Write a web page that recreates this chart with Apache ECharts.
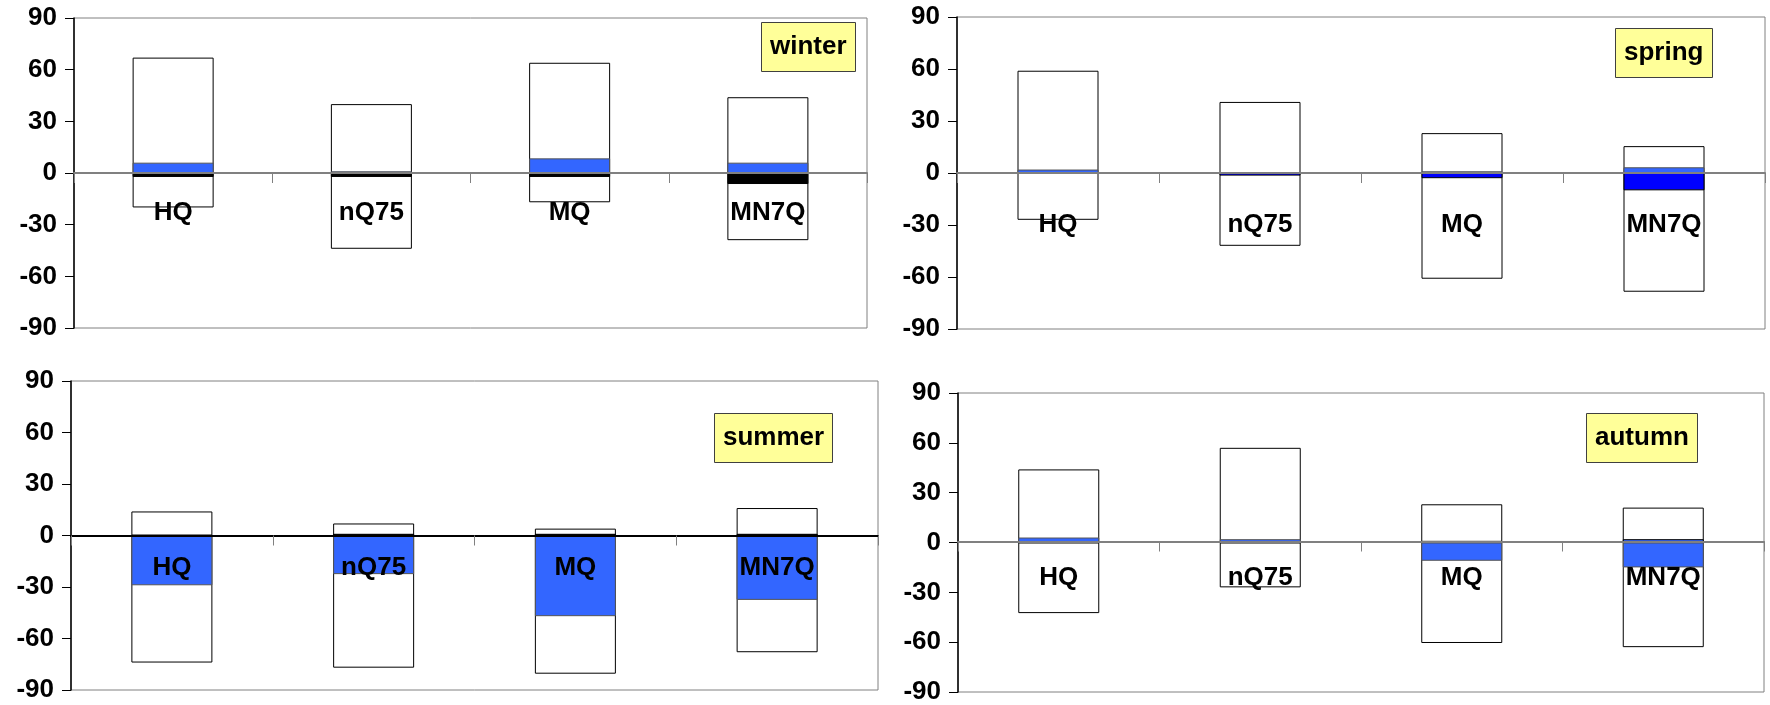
<!DOCTYPE html>
<html lang="en">
<head>
  <meta charset="UTF-8">
  <title>seasonal changes</title>
  <script src="https://cdn.jsdelivr.net/npm/echarts@6/dist/echarts.min.js"></script>
  <style>
    html, body { margin: 0; padding: 0; background: #fff; }
  </style>
</head>
<body>
    <div id="main" style="width: 1770px;height:705px;"></div>
    <script type="text/javascript">
        // categories and tick labels
        var categories = ['HQ', 'nQ75', 'MQ', 'MN7Q'];
        var seasons = ['winter', 'spring', 'summer', 'autumn'];
        var yTicks = [-90, -60, -30, 0, 30, 60, 90];

        // white box: range (max / min), blue bar and dark bar: changes
        var winterMax = [67, 40, 64, 44];
        var winterMin = [-20, -44, -17, -39];
        var winterBlue = [6, 1, 8.5, 6];
        var winterDark = [-2.3, -2.3, -2.3, -6.4];

        var springMax = [59, 41, 23, 15.5];
        var springMin = [-27, -42, -61, -68.5];
        var springBlue = [2, null, 1, 3.3];
        var springDark = [null, -1.5, -3, -10];

        var summerMax = [14, 7, 4, 16];
        var summerMin = [-74, -77, -80.5, -68];
        var summerBlue = [-29, -22.5, -47, -37.5];
        var summerDark = [null, 1, 1, 1];

        var autumnMax = [44, 57, 23, 21];
        var autumnMin = [-42.5, -27, -60.5, -63];
        var autumnBlue = [3, 2, -11, -15];
        var autumnDark = [null, null, 1, 2];

        var maxSets = [winterMax, springMax, summerMax, autumnMax];
        var minSets = [winterMin, springMin, summerMin, autumnMin];
        var blueSets = [winterBlue, springBlue, summerBlue, autumnBlue];
        var darkSets = [winterDark, springDark, summerDark, autumnDark];

        // layout of the four panels
        var grids = [
            {left: 74, top: 18, width: 793, height: 310},
            {left: 957, top: 17, width: 808, height: 312},
            {left: 71, top: 381, width: 807, height: 309},
            {left: 958, top: 393, width: 806, height: 301}
        ];
        var titlePos = [[761, 22], [1615, 28], [714, 413], [1586, 413]];
        var labelMargin = [27, 39, 19, 23];
        var darkColor = ['#000000', '#0000FF', '#000000', '#3366FF'];
        var zeroColor = ['#808080', '#808080', '#000000', '#808080'];

        var font = 'Liberation Sans, Arial, sans-serif';

        var myChart = echarts.init(document.getElementById('main'));

        var option = {
            backgroundColor: '#fff',
            animation: false,
            title: [],
            grid: [],
            xAxis: [],
            yAxis: [],
            series: []
        };

        for (var i = 0; i < 4; i++) {
            var g = grids[i];
            option.grid.push({
                left: g.left, top: g.top, width: g.width, height: g.height,
                show: true, borderColor: '#808080', borderWidth: 1,
                backgroundColor: '#fff'
            });
            option.title.push({
                text: seasons[i],
                left: titlePos[i][0],
                top: titlePos[i][1],
                backgroundColor: '#FFFF99',
                borderColor: '#404040',
                borderWidth: 1,
                padding: [12, 9],
                textStyle: {fontFamily: font, fontWeight: 'bold', fontSize: 26, lineHeight: 26, color: '#000'}
            });
            // category axis moved up to the zero line (range is symmetric)
            option.xAxis.push({
                type: 'category',
                gridIndex: i,
                data: categories,
                z: 5,
                offset: -g.height / 2,
                axisLine: {onZero: false, lineStyle: {color: zeroColor[i], width: 2}},
                axisTick: {show: true, length: 10, lineStyle: {color: '#808080', width: 1}},
                axisLabel: {
                    margin: labelMargin[i],
                    fontFamily: font, fontWeight: 'bold', fontSize: 26, color: '#000'
                },
                splitLine: {show: false}
            });
            option.yAxis.push({
                type: 'value',
                gridIndex: i,
                min: yTicks[0],
                max: yTicks[yTicks.length - 1],
                interval: 30,
                axisLine: {show: true, lineStyle: {color: '#000', width: 1.5}},
                axisTick: {show: true, length: 9, lineStyle: {color: '#000'}},
                axisLabel: {
                    margin: 17,
                    fontFamily: font, fontWeight: 'bold', fontSize: 26, color: '#000'
                },
                splitLine: {show: false}
            });

            var boxStyle = {color: '#fff', borderColor: '#000', borderWidth: 1};
            option.series.push({
                type: 'bar', xAxisIndex: i, yAxisIndex: i,
                data: maxSets[i], barWidth: 81, barGap: '-100%',
                itemStyle: boxStyle
            });
            option.series.push({
                type: 'bar', xAxisIndex: i, yAxisIndex: i,
                data: minSets[i], barWidth: 81, barGap: '-100%',
                itemStyle: boxStyle
            });
            option.series.push({
                type: 'bar', xAxisIndex: i, yAxisIndex: i,
                data: blueSets[i], barWidth: 81, barGap: '-100%',
                itemStyle: {color: '#3366FF', borderColor: '#555', borderWidth: 1}
            });
            option.series.push({
                type: 'bar', xAxisIndex: i, yAxisIndex: i,
                data: darkSets[i], barWidth: 81, barGap: '-100%',
                itemStyle: {color: darkColor[i], borderColor: '#000', borderWidth: 1}
            });
        }

        myChart.setOption(option);
    </script>
</body>
</html>
